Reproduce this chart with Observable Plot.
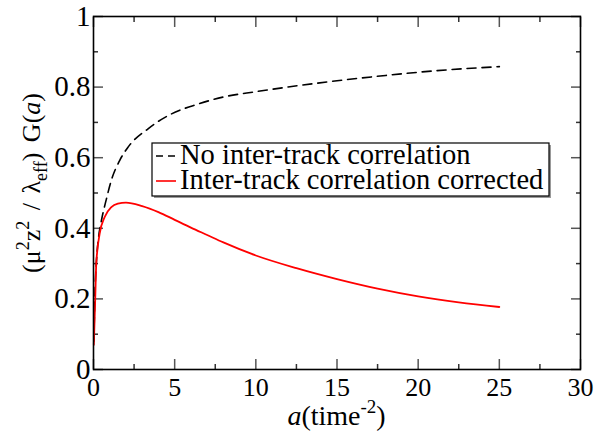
<!DOCTYPE html>
<html>
<head>
<meta charset="utf-8">
<script src="https://cdn.jsdelivr.net/npm/d3@7"></script>
<script src="https://cdn.jsdelivr.net/npm/@observablehq/plot@0.6"></script>
<style>
  html, body { margin: 0; padding: 0; background: #fff; }
</style>
</head>
<body>
<div id="chart"></div>
<script>
// Series 1: No inter-track correlation (dashed black)
const aNoCorr = [0.02, 0.1, 0.2, 0.3, 0.48, 0.79, 1.1, 1.61, 2.13, 3.36, 4.8, 6.44, 8, 10, 12.1, 15, 18, 21, 25];
const gNoCorr = [0.08, 0.23, 0.32, 0.37, 0.42, 0.482, 0.536, 0.592, 0.63, 0.682, 0.724, 0.752, 0.772, 0.787, 0.801, 0.818, 0.833, 0.846, 0.858];
// Series 2: Inter-track correlation corrected (red)
const aCorr = [0.02, 0.11, 0.17, 0.38, 0.69, 1.1, 1.5, 2.0, 3, 4, 5, 6, 7, 8, 10, 12.5, 15, 17.5, 20, 22.5, 25];
const gCorr = [0.07, 0.206, 0.30, 0.385, 0.432, 0.46, 0.47, 0.473, 0.463, 0.446, 0.424, 0.402, 0.381, 0.36, 0.323, 0.287, 0.256, 0.229, 0.207, 0.19, 0.177];

const xMajor = [0, 5, 10, 15, 20, 25, 30];
const xMinor = [2.5, 7.5, 12.5, 17.5, 22.5, 27.5];
const yMajor = [0, 0.2, 0.4, 0.6, 0.8, 1];
const yMinor = [0.1, 0.3, 0.5, 0.7, 0.9];
const legendLabels = ["No inter-track correlation", "Inter-track correlation corrected"];

const noCorr = aNoCorr.map((a, i) => ({a, g: gNoCorr[i]}));
const corr = aCorr.map((a, i) => ({a, g: gCorr[i]}));

const W = 597, H = 435;
const mL = 93, mR = 17, mT = 16, mB = 66;
const font = "Liberation Serif";

const fmt = d => String(d);

const plot = Plot.plot({
  width: W, height: H,
  marginLeft: mL, marginRight: mR, marginTop: mT, marginBottom: mB,
  style: {fontFamily: font, fontSize: "26px", color: "#000", background: "#fff", overflow: "visible"},
  x: {domain: [0, 30]},
  y: {domain: [0, 1]},
  marks: [
    Plot.axisX(xMajor, {anchor: "bottom", tickSize: -10, tickPadding: 18, tickFormat: fmt, label: null, fontSize: 26, strokeWidth: 1.5, stroke: "#555"}),
    Plot.axisX(xMinor, {anchor: "bottom", tickSize: -5, text: null, label: null, strokeWidth: 1.5, stroke: "#333"}),
    Plot.axisX(xMajor, {anchor: "top", tickSize: -10, text: null, label: null, strokeWidth: 1.5, stroke: "#555"}),
    Plot.axisX(xMinor, {anchor: "top", tickSize: -5, text: null, label: null, strokeWidth: 1.5, stroke: "#333"}),
    Plot.axisY(yMajor, {anchor: "left", tickSize: -10, tickPadding: 13, tickFormat: fmt, label: null, fontSize: 29, strokeWidth: 1.5, stroke: "#555"}),
    Plot.axisY(yMinor, {anchor: "left", tickSize: -5, text: null, label: null, strokeWidth: 1.5, stroke: "#333"}),
    Plot.axisY(yMajor, {anchor: "right", tickSize: -10, text: null, label: null, strokeWidth: 1.5, stroke: "#555"}),
    Plot.axisY(yMinor, {anchor: "right", tickSize: -5, text: null, label: null, strokeWidth: 1.5, stroke: "#333"}),
    Plot.line(noCorr, {x: "a", y: "g", stroke: "#000", strokeWidth: 1.6, strokeDasharray: "9,6", curve: "monotone-x"}),
    Plot.line(corr, {x: "a", y: "g", stroke: "#ff0000", strokeWidth: 1.8, curve: "monotone-x"}),
    Plot.frame({stroke: "#000", strokeWidth: 1.6})
  ]
});

document.getElementById("chart").appendChild(plot);

const svg = d3.select(plot);
svg.selectAll("text").style("font-family", "'Liberation Serif'");

// Y axis label
const yl = svg.append("text")
  .attr("transform", `translate(40,183) rotate(-90)`)
  .attr("text-anchor", "middle")
  .style("font-family", "'Liberation Serif'")
  .attr("font-size", 26)
  .attr("fill", "#000");
yl.append("tspan").text("(μ");
yl.append("tspan").attr("dy", -11).attr("font-size", 18).text("2");
yl.append("tspan").attr("dy", 11).text("z");
yl.append("tspan").attr("dy", -11).attr("font-size", 18).text("2");
yl.append("tspan").attr("dy", 11).attr("dx", 4).text(" / ");
yl.append("tspan").attr("dx", 3).text("λ");
yl.append("tspan").attr("dy", 7).attr("font-size", 18).text("eff");
yl.append("tspan").attr("dy", -7).text(")");
yl.append("tspan").attr("dx", 4).text(" G(");
yl.append("tspan").attr("font-style", "italic").text("a");
yl.append("tspan").text(")");

// X axis label
const xl = svg.append("text")
  .attr("x", (mL + W - mR) / 2)
  .attr("y", 425)
  .attr("text-anchor", "middle")
  .style("font-family", "'Liberation Serif'")
  .attr("font-size", 28)
  .attr("fill", "#000");
xl.append("tspan").attr("font-style", "italic").text("a");
xl.append("tspan").text("(time");
xl.append("tspan").attr("dy", -12).attr("font-size", 19).text("-2");
xl.append("tspan").attr("dy", 12).text(")");

// Legend
const lg = svg.append("g");
const bx = 152, by = 143, bw = 397, bh = 53;
lg.append("rect").attr("x", bx + 2).attr("y", by + 2).attr("width", bw).attr("height", bh).attr("fill", "#999");
lg.append("rect").attr("x", bx).attr("y", by).attr("width", bw).attr("height", bh).attr("fill", "#fff").attr("stroke", "#000").attr("stroke-width", 1.2);
const rows = [{y: 164, stroke: "#000", dash: "7,5"}, {y: 189, stroke: "#ff0000", dash: null}];
rows.forEach((r, i) => {
  lg.append("line").attr("x1", 156).attr("x2", 176).attr("y1", r.y - 8).attr("y2", r.y - 8)
    .attr("stroke", r.stroke).attr("stroke-width", 1.6).attr("stroke-dasharray", r.dash);
  lg.append("text").attr("x", 180).attr("y", r.y)
    .attr("text-anchor", "start")
    .style("font-family", "'Liberation Serif'").attr("font-size", 28.5).attr("fill", "#000")
    .text(legendLabels[i]);
});
</script>
</body>
</html>
